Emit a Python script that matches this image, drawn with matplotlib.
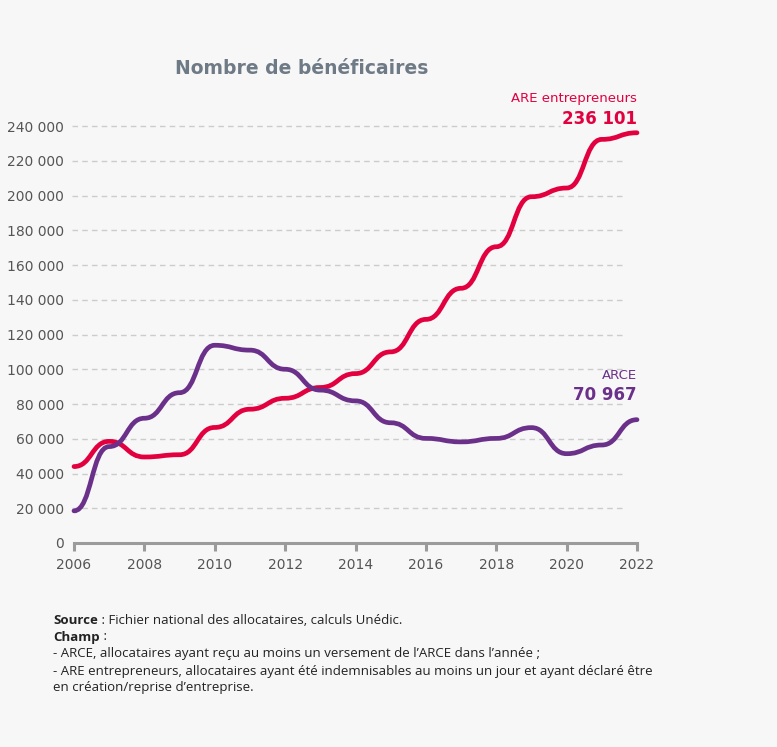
import matplotlib.pyplot as plt
from matplotlib.path import Path
from matplotlib.patches import PathPatch
from matplotlib.ticker import FuncFormatter

years = [2006, 2007, 2008, 2009, 2010, 2011, 2012, 2013, 2014,
         2015, 2016, 2017, 2018, 2019, 2020, 2021, 2022]
are_entrepreneurs = [44000, 58500, 49500, 50800, 66500, 77000, 83300, 89500, 97500,
                     110000, 128700, 146600, 170500, 199300, 204300, 232300, 236101]
arce = [18500, 55500, 71800, 86500, 113800, 111000, 100000, 88000, 81800,
        69200, 60200, 58200, 60200, 66400, 51400, 56400, 70967]

y_ticks = list(range(0, 240001, 20000))
x_ticks = list(range(2006, 2023, 2))

BG = '#f7f7f7'
RED = '#e2003f'
PURPLE = '#6b318a'
GREY = '#555555'


def bump_path(xs, ys):
    # smooth "bump" curve: control points at the middle of each interval
    verts = [(xs[0], ys[0])]
    codes = [Path.MOVETO]
    for i in range(len(xs) - 1):
        xm = (xs[i] + xs[i + 1]) / 2
        verts += [(xm, ys[i]), (xm, ys[i + 1]), (xs[i + 1], ys[i + 1])]
        codes += [Path.CURVE4] * 3
    return Path(verts, codes)


def fmt(v, pos=None):
    return format(int(v), ',').replace(',', ' ')


fig = plt.figure(figsize=(7.77, 7.47), dpi=100, facecolor=BG)
ax = fig.add_axes([74 / 777, 1 - 543 / 747, 563 / 777, 417 / 747])
ax.set_facecolor(BG)
ax.set_xlim(2006, 2022)
ax.set_ylim(0, 240000)

for v in y_ticks[1:]:
    ax.axhline(v, xmin=-0.004, xmax=0.973, color='#cccccc', lw=1,
               dashes=(4, 3), clip_on=False, zorder=1)

for ys, col in [(are_entrepreneurs, RED), (arce, PURPLE)]:
    ax.add_patch(PathPatch(bump_path(years, ys), facecolor='none', edgecolor=col,
                           lw=3.4, capstyle='round', clip_on=False, zorder=3))

for s in ['top', 'right', 'left']:
    ax.spines[s].set_visible(False)
ax.spines['bottom'].set_color('#9b9b9b')
ax.spines['bottom'].set_linewidth(2.2)

ax.set_xticks(x_ticks)
ax.set_yticks(y_ticks)
ax.yaxis.set_major_formatter(FuncFormatter(fmt))
ax.tick_params(axis='x', length=6, width=2.2, color='#9b9b9b', pad=5,
               labelsize=10, labelcolor=GREY)
ax.tick_params(axis='y', length=0, pad=7, labelsize=10, labelcolor=GREY)

# end labels
ax.annotate('ARE entrepreneurs', xy=(years[-1], are_entrepreneurs[-1]),
            xytext=(0, 25), textcoords='offset points', ha='right', va='center',
            color=RED, fontsize=9.5, zorder=5,
            bbox=dict(facecolor=BG, edgecolor='none', pad=1))
ax.annotate(fmt(are_entrepreneurs[-1]), xy=(years[-1], are_entrepreneurs[-1]),
            xytext=(0, 10), textcoords='offset points', ha='right', va='center',
            color=RED, fontsize=12, fontweight='bold', zorder=5,
            bbox=dict(facecolor=BG, edgecolor='none', pad=1))
ax.annotate('ARCE', xy=(years[-1], arce[-1]),
            xytext=(0, 32), textcoords='offset points', ha='right', va='center',
            color=PURPLE, fontsize=9.5, zorder=5)
ax.annotate(fmt(arce[-1]), xy=(years[-1], arce[-1]),
            xytext=(0, 18), textcoords='offset points', ha='right', va='center',
            color=PURPLE, fontsize=12, fontweight='bold', zorder=5)

fig.text(302 / 777, 1 - 68 / 747, 'Nombre de bénéficaires', ha='center', va='center',
         fontsize=13.5, fontweight='bold', color='#6e7a86')

# footer
foot = dict(fontsize=9.5, color='#222222', va='center', family='Open Sans')
x0 = 53 / 777
t = fig.text(x0, 1 - 621 / 747, 'Source', fontweight='bold', **foot)
fig.canvas.draw()
ax.annotate(' : Fichier national des allocataires, calculs Unédic.', xy=(1, 0.5),
            xycoords=t, va='center', fontsize=9.5, color='#222222', family='Open Sans',
            annotation_clip=False)
t2 = fig.text(x0, 1 - 637 / 747, 'Champ', fontweight='bold', **foot)
ax.annotate(' :', xy=(1, 0.5), xycoords=t2, va='center', fontsize=9.5,
            color='#222222', family='Open Sans', annotation_clip=False)
fig.text(x0, 1 - 654 / 747,
         "- ARCE, allocataires ayant reçu au moins un versement de l’ARCE dans l’année ;", **foot)
fig.text(x0, 1 - 671 / 747,
         '- ARE entrepreneurs, allocataires ayant été indemnisables au moins un jour et ayant déclaré être', **foot)
fig.text(x0, 1 - 687 / 747, 'en création/reprise d’entreprise.', **foot)

fig.savefig('out.png', dpi=100, facecolor=BG)
